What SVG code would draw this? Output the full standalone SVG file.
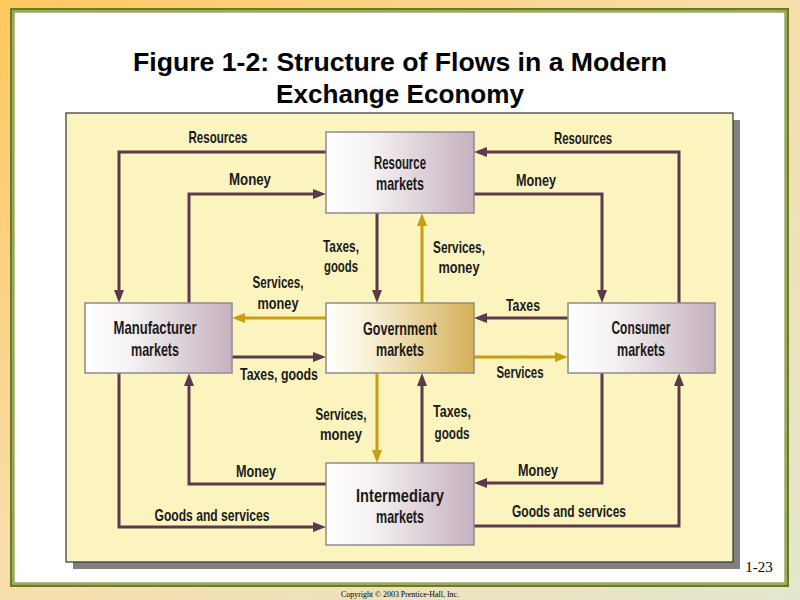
<svg xmlns="http://www.w3.org/2000/svg" width="800" height="600" viewBox="0 0 800 600">
<defs>
<linearGradient id="bg" x1="0" y1="0" x2="1" y2="1">
<stop offset="0" stop-color="#FFC75E"/>
<stop offset="0.45" stop-color="#F8DDA8"/>
<stop offset="1" stop-color="#E3E6CE"/>
</linearGradient>
<linearGradient id="gm" x1="0" y1="0" x2="1" y2="0">
<stop offset="0" stop-color="#FFFFFF"/>
<stop offset="0.3" stop-color="#F6F2F4"/>
<stop offset="1" stop-color="#C5B1BF"/>
</linearGradient>
<linearGradient id="gg" x1="0" y1="0" x2="1" y2="0">
<stop offset="0" stop-color="#FFFFFF"/>
<stop offset="0.3" stop-color="#F7EFD6"/>
<stop offset="1" stop-color="#D5B158"/>
</linearGradient>
<marker id="am" viewBox="0 0 13 10" refX="5" refY="5" markerWidth="13" markerHeight="10" markerUnits="userSpaceOnUse" orient="auto">
<path d="M0,0 L13,5 L0,10 z" fill="#5D3A4B"/>
</marker>
<marker id="ag" viewBox="0 0 13 10" refX="5" refY="5" markerWidth="13" markerHeight="10" markerUnits="userSpaceOnUse" orient="auto">
<path d="M0,0 L13,5 L0,10 z" fill="#C79D14"/>
</marker>
</defs>
<style>
.m{fill:none;stroke:#5D3A4B;stroke-width:3;marker-end:url(#am)}
.g{fill:none;stroke:#C79D14;stroke-width:3;marker-end:url(#ag)}
.box{stroke:#8C8C8C;stroke-width:1.5}
.bt{font-family:"Liberation Sans",Arial,sans-serif;font-size:18.5px;font-weight:bold;fill:#1A1A1A;text-anchor:middle}
.lb{font-family:"Liberation Sans",Arial,sans-serif;font-size:17px;font-weight:bold;fill:#1A1A1A;text-anchor:middle}
.title{font-family:"Liberation Sans",Arial,sans-serif;font-size:26px;font-weight:bold;fill:#000;text-anchor:middle}
.serif{font-family:"Liberation Serif","Times New Roman",serif;fill:#000}
</style>
<rect x="0" y="0" width="800" height="600" fill="url(#bg)"/>
<rect x="10" y="8" width="779" height="579" fill="#6B7D1E"/>
<rect x="12.5" y="10.5" width="774" height="574" fill="#CBD69A"/>
<rect x="13.5" y="11.5" width="772" height="572" fill="#6B7D1E"/>
<rect x="14.5" y="12.5" width="770" height="570" fill="#FFFFFF"/>
<text class="title" x="400" y="71" textLength="534" lengthAdjust="spacingAndGlyphs">Figure 1-2: Structure of Flows in a Modern</text>
<text class="title" x="400" y="103" textLength="248" lengthAdjust="spacingAndGlyphs">Exchange Economy</text>
<rect x="73" y="120" width="667" height="449" fill="#808080"/>
<rect x="66" y="113" width="667" height="449" fill="#FBF4BF" stroke="#333333" stroke-width="1.2"/>
<g id="connectors">
<path class="m" d="M326,152 H119 V295"/>
<path class="m" d="M189,303 V194 H318"/>
<path class="m" d="M679,303 V152 H482"/>
<path class="m" d="M474,194 H602 V295"/>
<path class="m" d="M377,213 V295"/>
<path class="g" d="M422,303 V221"/>
<path class="g" d="M326,318 H240"/>
<path class="m" d="M232,357 H318"/>
<path class="m" d="M568,318 H482"/>
<path class="g" d="M474,357 H560"/>
<path class="g" d="M377,373 V455"/>
<path class="m" d="M422,463 V381"/>
<path class="m" d="M326,484 H189 V381"/>
<path class="m" d="M119,373 V527 H318"/>
<path class="m" d="M602,373 V483 H482"/>
<path class="m" d="M474,526 H679 V381"/>
<text class="lb" x="218" y="143" textLength="59" lengthAdjust="spacingAndGlyphs">Resources</text>
<text class="lb" x="250" y="185" textLength="42" lengthAdjust="spacingAndGlyphs">Money</text>
<text class="lb" x="583" y="144" textLength="58" lengthAdjust="spacingAndGlyphs">Resources</text>
<text class="lb" x="536" y="186" textLength="40" lengthAdjust="spacingAndGlyphs">Money</text>
<text class="lb" x="341" y="252" textLength="36" lengthAdjust="spacingAndGlyphs">Taxes,</text>
<text class="lb" x="341" y="272" textLength="34" lengthAdjust="spacingAndGlyphs">goods</text>
<text class="lb" x="459" y="253" textLength="52" lengthAdjust="spacingAndGlyphs">Services,</text>
<text class="lb" x="459" y="273" textLength="41" lengthAdjust="spacingAndGlyphs">money</text>
<text class="lb" x="278" y="288" textLength="51" lengthAdjust="spacingAndGlyphs">Services,</text>
<text class="lb" x="278" y="309" textLength="41" lengthAdjust="spacingAndGlyphs">money</text>
<text class="lb" x="279" y="380" textLength="78" lengthAdjust="spacingAndGlyphs">Taxes, goods</text>
<text class="lb" x="523" y="311" textLength="34" lengthAdjust="spacingAndGlyphs">Taxes</text>
<text class="lb" x="520" y="378" textLength="47" lengthAdjust="spacingAndGlyphs">Services</text>
<text class="lb" x="341" y="420" textLength="51" lengthAdjust="spacingAndGlyphs">Services,</text>
<text class="lb" x="341" y="440" textLength="42" lengthAdjust="spacingAndGlyphs">money</text>
<text class="lb" x="452" y="417" textLength="38" lengthAdjust="spacingAndGlyphs">Taxes,</text>
<text class="lb" x="452" y="439" textLength="35" lengthAdjust="spacingAndGlyphs">goods</text>
<text class="lb" x="256" y="477" textLength="40" lengthAdjust="spacingAndGlyphs">Money</text>
<text class="lb" x="212" y="521" textLength="115" lengthAdjust="spacingAndGlyphs">Goods and services</text>
<text class="lb" x="538" y="476" textLength="40" lengthAdjust="spacingAndGlyphs">Money</text>
<text class="lb" x="569" y="517" textLength="114" lengthAdjust="spacingAndGlyphs">Goods and services</text>
</g>
<g id="resource">
<rect class="box" x="326" y="132" width="148" height="81" fill="url(#gm)"/>
<text class="bt" x="400" y="169" textLength="52" lengthAdjust="spacingAndGlyphs">Resource</text>
<text class="bt" x="400" y="190" textLength="48" lengthAdjust="spacingAndGlyphs">markets</text>
</g>
<g id="government">
<rect class="box" x="326" y="303" width="148" height="70" fill="url(#gg)"/>
<text class="bt" x="400" y="335" textLength="74" lengthAdjust="spacingAndGlyphs">Government</text>
<text class="bt" x="400" y="356" textLength="48" lengthAdjust="spacingAndGlyphs">markets</text>
</g>
<g id="manufacturer">
<rect class="box" x="85" y="303" width="147" height="70" fill="url(#gm)"/>
<text class="bt" x="155" y="334" textLength="83" lengthAdjust="spacingAndGlyphs">Manufacturer</text>
<text class="bt" x="155" y="356" textLength="48" lengthAdjust="spacingAndGlyphs">markets</text>
</g>
<g id="consumer">
<rect class="box" x="568" y="303" width="147" height="70" fill="url(#gm)"/>
<text class="bt" x="641" y="334" textLength="59" lengthAdjust="spacingAndGlyphs">Consumer</text>
<text class="bt" x="641" y="356" textLength="48" lengthAdjust="spacingAndGlyphs">markets</text>
</g>
<g id="intermediary">
<rect class="box" x="326" y="463" width="148" height="82" fill="url(#gm)"/>
<text class="bt" x="400" y="502" textLength="88" lengthAdjust="spacingAndGlyphs">Intermediary</text>
<text class="bt" x="400" y="523" textLength="48" lengthAdjust="spacingAndGlyphs">markets</text>
</g>
<text class="serif" x="759" y="572" font-size="15" text-anchor="middle">1-23</text>
<text class="serif" x="400" y="597" font-size="8" text-anchor="middle" textLength="118" lengthAdjust="spacingAndGlyphs">Copyright © 2003 Prentice-Hall, Inc.</text>
</svg>
